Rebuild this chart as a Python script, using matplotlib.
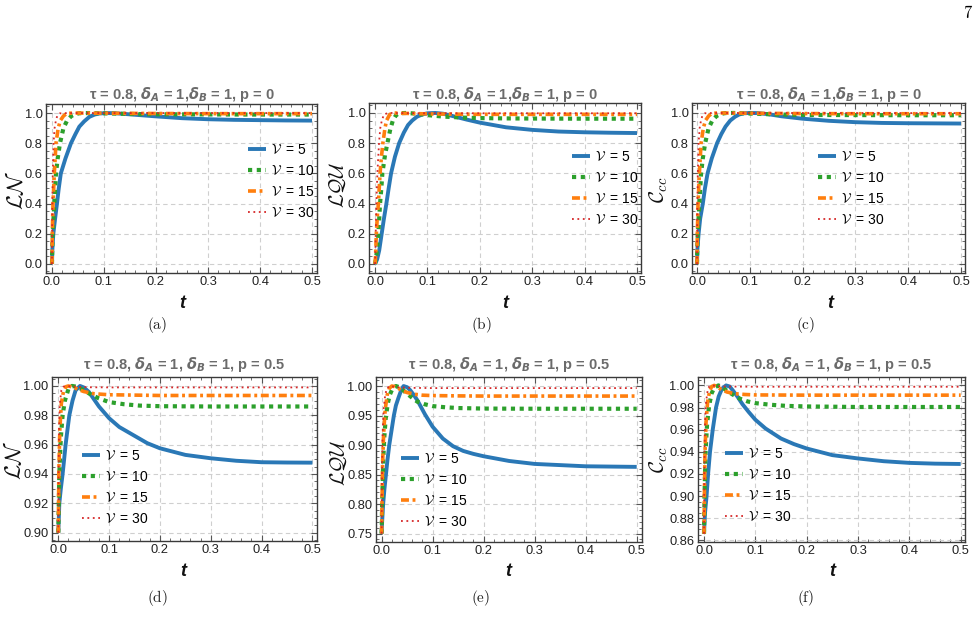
import matplotlib
matplotlib.use("Agg")
import matplotlib.pyplot as plt
from matplotlib.ticker import MultipleLocator, FormatStrFormatter
from matplotlib.font_manager import FontProperties

# ---------------- data ----------------
V_labels = [r'$\mathcal{V}\,$ = 5', r'$\mathcal{V}\,$ = 10', r'$\mathcal{V}\,$ = 15', r'$\mathcal{V}\,$ = 30']

# (a) LN, p = 0
a5_t = [0, 0.0008, 0.0026, 0.006, 0.0096, 0.013, 0.017, 0.026, 0.0365, 0.045, 0.0526, 0.062, 0.072, 0.082, 0.091, 0.105, 0.12, 0.14, 0.17, 0.2, 0.25, 0.3, 0.35, 0.4, 0.45, 0.5]
a5_y = [0, 0.1, 0.2, 0.3, 0.4, 0.5, 0.6, 0.7, 0.8, 0.86, 0.91, 0.945, 0.975, 0.99, 0.997, 1.0, 0.999, 0.994, 0.986, 0.978, 0.966, 0.959, 0.955, 0.953, 0.951, 0.95]
a10_t = [0, 0.0005, 0.0013, 0.0045, 0.0077, 0.011, 0.0154, 0.022, 0.029, 0.037, 0.045, 0.053, 0.07, 0.1, 0.15, 0.2, 0.3, 0.4, 0.5]
a10_y = [0, 0.1, 0.2, 0.4, 0.6, 0.7, 0.8, 0.9, 0.95, 0.98, 0.993, 0.999, 1.0, 0.998, 0.994, 0.992, 0.991, 0.99, 0.99]
a15_t = [0, 0.0006, 0.002, 0.0045, 0.0077, 0.012, 0.016, 0.022, 0.028, 0.04, 0.1, 0.2, 0.3, 0.5]
a15_y = [0, 0.2, 0.4, 0.6, 0.8, 0.9, 0.95, 0.98, 0.997, 1.0, 0.999, 0.997, 0.996, 0.996]
a30_t = [0, 0.0002, 0.0007, 0.0015, 0.003, 0.005, 0.0075, 0.01, 0.015, 0.03, 0.5]
a30_y = [0, 0.2, 0.4, 0.6, 0.8, 0.9, 0.95, 0.98, 0.998, 1.0, 1.0]

# (b) LQU, p = 0
b5_t = [0, 0.004, 0.008, 0.0127, 0.017, 0.0217, 0.026, 0.0306, 0.038, 0.046, 0.055, 0.063, 0.071, 0.08, 0.09, 0.1, 0.115, 0.13, 0.15, 0.175, 0.2, 0.25, 0.3, 0.35, 0.4, 0.45, 0.5]
b5_y = [0, 0.03, 0.09, 0.2, 0.3, 0.4, 0.5, 0.6, 0.71, 0.8, 0.87, 0.92, 0.95, 0.975, 0.99, 0.998, 1.0, 0.995, 0.978, 0.956, 0.936, 0.905, 0.888, 0.877, 0.872, 0.869, 0.867]
b10_t = [0, 0.002, 0.004, 0.0064, 0.0096, 0.012, 0.014, 0.019, 0.0236, 0.029, 0.034, 0.04, 0.046, 0.06, 0.08, 0.1, 0.13, 0.17, 0.2, 0.25, 0.3, 0.4, 0.5]
b10_y = [0, 0.04, 0.1, 0.2, 0.4, 0.5, 0.6, 0.72, 0.8, 0.89, 0.95, 0.985, 0.998, 1.0, 0.995, 0.986, 0.976, 0.969, 0.966, 0.964, 0.963, 0.962, 0.962]
b15_t = [0, 0.001, 0.0025, 0.0045, 0.0064, 0.0096, 0.012, 0.015, 0.019, 0.022, 0.028, 0.035, 0.05, 0.1, 0.15, 0.2, 0.3, 0.5]
b15_y = [0, 0.05, 0.2, 0.32, 0.4, 0.6, 0.7, 0.8, 0.9, 0.95, 0.99, 1.0, 0.998, 0.994, 0.992, 0.991, 0.991, 0.991]
b30_t = [0, 0.0005, 0.0013, 0.0025, 0.0045, 0.0076, 0.01, 0.013, 0.017, 0.025, 0.1, 0.5]
b30_y = [0, 0.05, 0.2, 0.4, 0.6, 0.8, 0.9, 0.95, 0.99, 1.0, 0.998, 0.998]

# (c) Ccc, p = 0
c5_t = [0, 0.0008, 0.003, 0.006, 0.011, 0.015, 0.02, 0.028, 0.038, 0.046, 0.054, 0.063, 0.072, 0.08, 0.089, 0.1, 0.115, 0.135, 0.16, 0.2, 0.25, 0.3, 0.35, 0.4, 0.45, 0.5]
c5_y = [0, 0.1, 0.2, 0.3, 0.4, 0.5, 0.6, 0.7, 0.8, 0.86, 0.91, 0.95, 0.975, 0.99, 0.998, 1.0, 0.999, 0.992, 0.978, 0.962, 0.948, 0.939, 0.934, 0.932, 0.931, 0.93]
c10_t = [0, 0.0005, 0.0013, 0.0045, 0.0077, 0.011, 0.0154, 0.022, 0.029, 0.037, 0.045, 0.053, 0.07, 0.1, 0.15, 0.2, 0.3, 0.4, 0.5]
c10_y = [0, 0.1, 0.2, 0.4, 0.6, 0.7, 0.8, 0.9, 0.95, 0.98, 0.993, 0.999, 1.0, 0.996, 0.99, 0.987, 0.986, 0.985, 0.985]
c15_t = [0, 0.0006, 0.002, 0.0045, 0.0077, 0.012, 0.016, 0.022, 0.028, 0.04, 0.1, 0.2, 0.3, 0.5]
c15_y = [0, 0.2, 0.4, 0.6, 0.8, 0.9, 0.95, 0.98, 0.997, 1.0, 0.998, 0.996, 0.995, 0.995]
c30_t = [0, 0.0002, 0.0007, 0.0015, 0.003, 0.005, 0.0075, 0.01, 0.015, 0.03, 0.5]
c30_y = [0, 0.2, 0.4, 0.6, 0.8, 0.9, 0.95, 0.98, 0.998, 1.0, 0.999]

# (d) LN, p = 0.5
d5_t = [0, 0.002, 0.005, 0.0085, 0.0115, 0.0144, 0.018, 0.0217, 0.028, 0.034, 0.0427, 0.05, 0.06, 0.07, 0.08, 0.09, 0.1, 0.12, 0.15, 0.175, 0.2, 0.25, 0.3, 0.35, 0.4, 0.45, 0.5]
d5_y = [0.9, 0.92, 0.93, 0.94, 0.95, 0.96, 0.97, 0.98, 0.99, 0.997, 1.0, 0.999, 0.996, 0.991, 0.986, 0.982, 0.978, 0.972, 0.966, 0.961, 0.9575, 0.953, 0.9507, 0.949, 0.948, 0.9478, 0.9477]
d10_t = [0, 0.002, 0.005, 0.0085, 0.013, 0.02, 0.027, 0.035, 0.045, 0.055, 0.065, 0.08, 0.1, 0.13, 0.16, 0.2, 0.3, 0.4, 0.5]
d10_y = [0.9, 0.94, 0.965, 0.98, 0.99, 0.998, 1.0, 0.9995, 0.998, 0.996, 0.994, 0.9915, 0.989, 0.9875, 0.9866, 0.9862, 0.986, 0.986, 0.986]
d15_t = [0, 0.001, 0.003, 0.006, 0.01, 0.015, 0.02, 0.03, 0.04, 0.05, 0.07, 0.1, 0.2, 0.5]
d15_y = [0.9, 0.94, 0.97, 0.988, 0.996, 0.9995, 1.0, 0.999, 0.9975, 0.9962, 0.9947, 0.994, 0.9935, 0.9935]
d30_t = [0, 0.0005, 0.0015, 0.003, 0.006, 0.01, 0.015, 0.025, 0.04, 0.06, 0.1, 0.5]
d30_y = [0.9, 0.94, 0.97, 0.988, 0.997, 0.9995, 1.0, 0.9997, 0.9993, 0.9991, 0.999, 0.999]

# (e) LQU, p = 0.5
e5_t = [0, 0.001, 0.003, 0.0055, 0.0085, 0.0115, 0.015, 0.0195, 0.024, 0.028, 0.033, 0.038, 0.043, 0.05, 0.056, 0.063, 0.07, 0.085, 0.1, 0.12, 0.14, 0.16, 0.18, 0.2, 0.25, 0.3, 0.35, 0.4, 0.45, 0.5]
e5_y = [0.75, 0.77, 0.8, 0.825, 0.85, 0.875, 0.9, 0.925, 0.95, 0.967, 0.98, 0.992, 1.0, 0.998, 0.993, 0.985, 0.976, 0.952, 0.931, 0.911, 0.898, 0.89, 0.885, 0.881, 0.873, 0.868, 0.866, 0.864, 0.8635, 0.863]
e10_t = [0, 0.001, 0.003, 0.005, 0.008, 0.012, 0.016, 0.021, 0.028, 0.035, 0.042, 0.05, 0.06, 0.07, 0.085, 0.1, 0.125, 0.15, 0.2, 0.3, 0.4, 0.5]
e10_y = [0.75, 0.8, 0.87, 0.91, 0.945, 0.97, 0.985, 0.995, 1.0, 0.998, 0.993, 0.987, 0.98, 0.9735, 0.969, 0.966, 0.964, 0.9627, 0.9618, 0.9615, 0.9615, 0.9615]
e15_t = [0, 0.0007, 0.002, 0.004, 0.007, 0.011, 0.015, 0.02, 0.026, 0.033, 0.04, 0.05, 0.065, 0.08, 0.1, 0.15, 0.2, 0.5]
e15_y = [0.75, 0.8, 0.87, 0.92, 0.96, 0.985, 0.996, 1.0, 0.999, 0.996, 0.992, 0.989, 0.986, 0.9845, 0.9838, 0.9833, 0.983, 0.983]
e30_t = [0, 0.0003, 0.001, 0.002, 0.004, 0.007, 0.01, 0.015, 0.02, 0.03, 0.05, 0.1, 0.5]
e30_y = [0.75, 0.8, 0.87, 0.92, 0.96, 0.985, 0.995, 1.0, 0.9995, 0.998, 0.997, 0.9965, 0.9965]

# (f) Ccc, p = 0.5
f5_t = [0, 0.002, 0.005, 0.008, 0.0117, 0.017, 0.0234, 0.0286, 0.035, 0.043, 0.05, 0.057, 0.065, 0.075, 0.087, 0.1, 0.12, 0.15, 0.175, 0.2, 0.25, 0.3, 0.35, 0.4, 0.45, 0.5]
f5_y = [0.866, 0.885, 0.9, 0.92, 0.94, 0.96, 0.98, 0.99, 0.997, 1.0, 0.999, 0.995, 0.99, 0.983, 0.976, 0.969, 0.961, 0.952, 0.947, 0.943, 0.937, 0.934, 0.9315, 0.93, 0.9293, 0.929]
f10_t = [0, 0.001, 0.003, 0.006, 0.01, 0.015, 0.02, 0.028, 0.035, 0.045, 0.055, 0.07, 0.085, 0.1, 0.13, 0.16, 0.2, 0.3, 0.5]
f10_y = [0.866, 0.9, 0.94, 0.965, 0.982, 0.993, 0.998, 1.0, 0.9985, 0.995, 0.992, 0.988, 0.9855, 0.984, 0.9825, 0.9815, 0.981, 0.9805, 0.9805]
f15_t = [0, 0.0007, 0.002, 0.004, 0.007, 0.011, 0.015, 0.02, 0.028, 0.035, 0.045, 0.06, 0.08, 0.1, 0.2, 0.5]
f15_y = [0.866, 0.9, 0.94, 0.967, 0.985, 0.995, 0.999, 1.0, 0.998, 0.996, 0.994, 0.9925, 0.9918, 0.9914, 0.9912, 0.9912]
f30_t = [0, 0.0003, 0.001, 0.002, 0.004, 0.007, 0.01, 0.015, 0.025, 0.04, 0.1, 0.5]
f30_y = [0.866, 0.9, 0.94, 0.967, 0.985, 0.995, 0.999, 1.0, 0.9995, 0.999, 0.9988, 0.9988]

title_p0 = r'τ = 0.8, $\mathbfit{\delta}_{\mathbfit{A}}$ = 1,$\mathbfit{\delta}_{\mathbfit{B}}$ = 1, p = 0'
title_p05 = r'τ = 0.8, $\mathbfit{\delta}_{\mathbfit{A}}$ = 1, $\mathbfit{\delta}_{\mathbfit{B}}$ = 1, p = 0.5'
ylabels = [r'$\mathcal{LN}$', r'$\mathcal{LQU}$', r'$\mathcal{C}_{cc}$']
captions = ['(a)', '(b)', '(c)', '(d)', '(e)', '(f)']

# ---------------- styling ----------------
W, H = 980, 638
fig = plt.figure(figsize=(W / 100, H / 100), dpi=100)
SANS = 'Liberation Sans'
colors = ['#2a78b6', '#2ca02c', '#ff7f0e', '#d62728']
styles = [dict(ls='-', lw=2.8),
          dict(ls=(0, (1.0, 1.1)), lw=3.0),
          dict(ls=(0, (2.2, 1.0, 0.8, 1.0)), lw=2.6),
          dict(ls=(0, (1.0, 2.0)), lw=1.3)]


def px_axes(l, r, t, b):
    return [l / W, 1 - b / H, (r - l) / W, (b - t) / H]


panels = [
    dict(rect=px_axes(46, 317, 104, 273), xlim=(-0.0115, 0.5096), ylim=(-0.06, 1.06), ymaj=0.2, ymin=0.05,
         data=[(a5_t, a5_y), (a10_t, a10_y), (a15_t, a15_y), (a30_t, a30_y)], title=title_p0, ylabel=ylabels[0],
         ylab=(15, 190), tlab=(182, 303), cap=(157, 325), leg=(248, 143), yfmt='%.1f', ylfs=16),
    dict(rect=px_axes(369, 641, 103, 273), xlim=(-0.0115, 0.5076), ylim=(-0.06, 1.066), ymaj=0.2, ymin=0.05,
         data=[(b5_t, b5_y), (b10_t, b10_y), (b15_t, b15_y), (b30_t, b30_y)], title=title_p0, ylabel=ylabels[1],
         ylab=(338, 185), tlab=(505, 303), cap=(481, 325), leg=(572, 150), yfmt='%.1f', ylfs=14.5),
    dict(rect=px_axes(692, 965, 103, 273), xlim=(-0.0095, 0.5076), ylim=(-0.06, 1.066), ymaj=0.2, ymin=0.05,
         data=[(c5_t, c5_y), (c10_t, c10_y), (c15_t, c15_y), (c30_t, c30_y)], title=title_p0, ylabel=ylabels[2],
         ylab=(659, 190), tlab=(830, 303), cap=(806, 325), leg=(818, 150), yfmt='%.1f', ylfs=15),
    dict(rect=px_axes(52, 317, 377, 541), xlim=(-0.0124, 0.509), ylim=(0.8943, 1.0061), ymaj=0.02, ymin=0.005,
         data=[(d5_t, d5_y), (d10_t, d10_y), (d15_t, d15_y), (d30_t, d30_y)], title=title_p05, ylabel=ylabels[0],
         ylab=(14, 460), tlab=(183, 572), cap=(157, 598), leg=(82, 449), yfmt='%.2f', ylfs=16),
    dict(rect=px_axes(376, 642, 377, 542), xlim=(-0.011, 0.5104), ylim=(0.7357, 1.0153), ymaj=0.05, ymin=0.01,
         data=[(e5_t, e5_y), (e10_t, e10_y), (e15_t, e15_y), (e30_t, e30_y)], title=title_p05, ylabel=ylabels[1],
         ylab=(339, 463), tlab=(508, 572), cap=(481, 598), leg=(401, 452), yfmt='%.2f', ylfs=14.5),
    dict(rect=px_axes(698, 965, 377, 542), xlim=(-0.0117, 0.5084), ylim=(0.8585, 1.0076), ymaj=0.02, ymin=0.005,
         data=[(f5_t, f5_y), (f10_t, f10_y), (f15_t, f15_y), (f30_t, f30_y)], title=title_p05, ylabel=ylabels[2],
         ylab=(659, 460), tlab=(832, 572), cap=(806, 598), leg=(725, 447), yfmt='%.2f', ylfs=15),
]

title_y = {0: 95, 1: 364}
leg_prop = FontProperties(family=SANS, size=10, math_fontfamily='cm')

for i, p in enumerate(panels):
    ax = fig.add_axes(p['rect'])
    for (tt, yy), c, st, lab in zip(p['data'], colors, styles, V_labels):
        ax.plot(tt, yy, color=c, label=lab, solid_capstyle='butt', dash_capstyle='butt', **st)
    ax.set_xlim(*p['xlim'])
    ax.set_ylim(*p['ylim'])
    ax.xaxis.set_major_locator(MultipleLocator(0.1))
    ax.xaxis.set_minor_locator(MultipleLocator(0.02))
    ax.yaxis.set_major_locator(MultipleLocator(p['ymaj']))
    ax.yaxis.set_minor_locator(MultipleLocator(p['ymin']))
    ax.yaxis.set_major_formatter(FormatStrFormatter(p['yfmt']))
    ax.xaxis.set_major_formatter(FormatStrFormatter('%.1f'))
    ax.tick_params(which='major', direction='in', top=True, right=True, length=4, width=0.8,
                   colors='#555555', labelcolor='#222222', labelsize=9.3, pad=2.5)
    ax.tick_params(which='minor', direction='in', top=True, right=True, length=2, width=0.6, colors='#555555')
    for lbl in ax.get_xticklabels() + ax.get_yticklabels():
        lbl.set_fontfamily(SANS)
    for s in ax.spines.values():
        s.set_color('#3a3a3a')
        s.set_linewidth(1.0)
    ax.grid(True, which='major', ls=(0, (4, 3)), color='#cfcfcf', lw=0.8)
    ax.set_axisbelow(True)

    row = 0 if i < 3 else 1
    xc = (p['rect'][0] + p['rect'][2] / 2)
    fig.text(xc, 1 - title_y[row] / H, p['title'], ha='center', va='center', fontsize=10.5,
             fontweight='bold', color='#6b6b6b', family=SANS)
    fig.text(p['ylab'][0] / W, 1 - p['ylab'][1] / H, p['ylabel'], rotation=90, ha='center', va='center',
             fontsize=p['ylfs'], color='#111111', math_fontfamily='cm')
    fig.text(p['tlab'][0] / W, 1 - p['tlab'][1] / H, 't', ha='center', va='center', fontsize=13,
             fontweight='bold', style='italic', family=SANS, color='#111111')
    fig.text(p['cap'][0] / W, 1 - p['cap'][1] / H, r'$\mathrm{' + captions[i] + '}$',
             ha='center', va='center', fontsize=11, math_fontfamily='cm', color='#222222')

    ax.legend(loc='upper left', bbox_to_anchor=(p['leg'][0] / W, 1 - p['leg'][1] / H),
              bbox_transform=fig.transFigure, frameon=False, prop=leg_prop, borderpad=0,
              borderaxespad=0, handlelength=1.3, handletextpad=0.35, labelspacing=0.5)

fig.text(968 / W, 1 - 13 / H, r'$\mathrm{7}$', ha='center', va='center', fontsize=12, math_fontfamily='cm')

fig.savefig('out.png', dpi=100, facecolor='white')
